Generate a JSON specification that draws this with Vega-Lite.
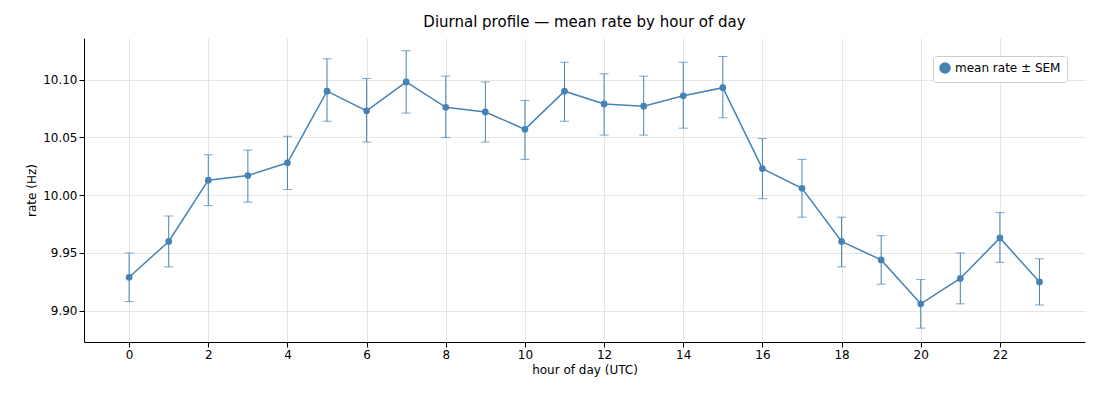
{
  "$schema": "https://vega.github.io/schema/vega-lite/v6.json",
  "width": 1001,
  "height": 304,
  "autosize": {"type": "none"},
  "padding": {"left": 84, "top": 38, "right": 15, "bottom": 58},
  "title": {"text": "Diurnal profile — mean rate by hour of day", "font": "DejaVu Sans", "fontSize": 15, "fontWeight": "normal", "color": "#000", "offset": 8},
  "config": {
    "view": {"stroke": null},
    "axis": {"labelFont": "DejaVu Sans", "titleFont": "DejaVu Sans", "labelFontSize": 12, "titleFontSize": 12, "titleFontWeight": "normal", "labelColor": "#000", "titleColor": "#000", "domainColor": "#000", "tickColor": "#000", "gridColor": "#e5e5e5"}
  },
  "data": {"values": [
    {"hour": 0, "rate": 9.929, "lo": 9.908, "hi": 9.950},
    {"hour": 1, "rate": 9.960, "lo": 9.938, "hi": 9.982},
    {"hour": 2, "rate": 10.013, "lo": 9.991, "hi": 10.035},
    {"hour": 3, "rate": 10.017, "lo": 9.994, "hi": 10.039},
    {"hour": 4, "rate": 10.028, "lo": 10.005, "hi": 10.051},
    {"hour": 5, "rate": 10.090, "lo": 10.064, "hi": 10.118},
    {"hour": 6, "rate": 10.073, "lo": 10.046, "hi": 10.101},
    {"hour": 7, "rate": 10.098, "lo": 10.071, "hi": 10.125},
    {"hour": 8, "rate": 10.076, "lo": 10.050, "hi": 10.103},
    {"hour": 9, "rate": 10.072, "lo": 10.046, "hi": 10.098},
    {"hour": 10, "rate": 10.057, "lo": 10.031, "hi": 10.082},
    {"hour": 11, "rate": 10.090, "lo": 10.064, "hi": 10.115},
    {"hour": 12, "rate": 10.079, "lo": 10.052, "hi": 10.105},
    {"hour": 13, "rate": 10.077, "lo": 10.052, "hi": 10.103},
    {"hour": 14, "rate": 10.086, "lo": 10.058, "hi": 10.115},
    {"hour": 15, "rate": 10.093, "lo": 10.067, "hi": 10.120},
    {"hour": 16, "rate": 10.023, "lo": 9.997, "hi": 10.049},
    {"hour": 17, "rate": 10.006, "lo": 9.981, "hi": 10.031},
    {"hour": 18, "rate": 9.960, "lo": 9.938, "hi": 9.981},
    {"hour": 19, "rate": 9.944, "lo": 9.923, "hi": 9.965},
    {"hour": 20, "rate": 9.906, "lo": 9.885, "hi": 9.927},
    {"hour": 21, "rate": 9.928, "lo": 9.906, "hi": 9.950},
    {"hour": 22, "rate": 9.963, "lo": 9.942, "hi": 9.985},
    {"hour": 23, "rate": 9.925, "lo": 9.905, "hi": 9.945}
  ]},
  "encoding": {
    "x": {"field": "hour", "type": "quantitative", "title": "hour of day (UTC)",
          "scale": {"domain": [-1.14, 24.15], "nice": false, "zero": false},
          "axis": {"values": [0, 2, 4, 6, 8, 10, 12, 14, 16, 18, 20, 22], "grid": true, "format": "d"}},
    "y": {"type": "quantitative", "title": "rate (Hz)",
          "scale": {"domain": [9.873, 10.136], "nice": false, "zero": false},
          "axis": {"values": [9.9, 9.95, 10.0, 10.05, 10.1], "format": ".2f", "grid": true}}
  },
  "layer": [
    {"mark": {"type": "rule", "color": "steelblue", "strokeWidth": 1}, "encoding": {"y": {"field": "lo", "type": "quantitative"}, "y2": {"field": "hi"}}},
    {"mark": {"type": "tick", "orient": "horizontal", "color": "steelblue", "size": 9, "thickness": 1}, "encoding": {"y": {"field": "lo", "type": "quantitative"}}},
    {"mark": {"type": "tick", "orient": "horizontal", "color": "steelblue", "size": 9, "thickness": 1}, "encoding": {"y": {"field": "hi", "type": "quantitative"}}},
    {"mark": {"type": "line", "strokeWidth": 1.5, "point": {"size": 45, "filled": true}},
     "encoding": {
       "y": {"field": "rate", "type": "quantitative"},
       "color": {"datum": "mean rate ± SEM", "scale": {"range": ["steelblue"]},
                 "legend": {"title": null, "orient": "top-right", "labelFont": "DejaVu Sans", "labelFontSize": 12, "labelColor": "#000", "symbolType": "circle", "strokeColor": "#ccc", "fillColor": "white", "padding": 6, "cornerRadius": 3}}
     }}
  ]
}
